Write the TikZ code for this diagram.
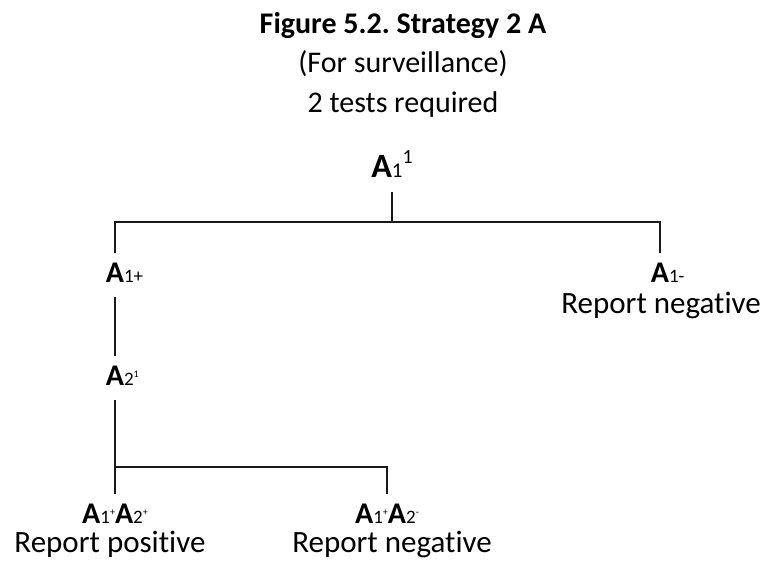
\documentclass[tikz,border=0pt]{standalone}
\usepackage{fontspec}
\setmainfont{Carlito}[Ligatures=CommonOff]
\usepackage{tikz}
\usetikzlibrary{calc,positioning}
\frenchspacing
\tikzstyle{testnode}=[inner xsep=0pt, inner ysep=4pt, anchor=base, font=\fontsize{30}{36}\selectfont]
\tikzstyle{plaintext}=[inner sep=0pt, anchor=base, font=\fontsize{30}{36}\selectfont]
\tikzstyle{reporttext}=[plaintext, font=\fontsize{31}{36}\selectfont]
\tikzstyle{branch}=[line width=1.6pt, black!90]
% small figures next to the A's
\newcommand{\lo}[1]{{\fontsize{19}{19}\selectfont #1}}
\newcommand{\hi}[1]{\raisebox{14pt}{\fontsize{19}{19}\selectfont #1}}
\newcommand{\tinyhi}[1]{\raisebox{8pt}{\fontsize{10}{10}\selectfont #1}}

\begin{document}
\begin{tikzpicture}[x=1pt,y=-1pt]
\useasboundingbox (0,0) rectangle (763,560);

	% Heading
    \node[plaintext] (title) at (403,33) {\bfseries Figure 5.2. Strategy 2 A};
    \node[plaintext] (purpose) at (403,72) {(For surveillance)};
    \node[plaintext] (ntests) at (403,112) {2 tests required};

	% Tests
    \node[testnode] (A11) at (392,177) {\strut{\fontsize{34}{34}\selectfont\bfseries A}{\fontsize{21}{21}\selectfont 1}\raisebox{14pt}{\fontsize{20}{20}\selectfont 1}};
    \node[testnode] (A1p) at (115,282) {\strut\textbf{A}\rlap{\lo{1+}}};
    \node[testnode] (A1m) at (660,282) {\strut\textbf{A}\rlap{\lo{1-}}};
    \node[reporttext, anchor=base east] (R1m) at (761,313) {Report negative};
    \node[testnode] (A2) at (115,385) {\strut\textbf{A}\rlap{\lo{2}\tinyhi{1}}};
    \node[testnode] (B1) at (115,523) {\strut\textbf{A}\lo{1}\tinyhi{+}\textbf{A}\lo{2}\tinyhi{+}};
    \node[testnode] (B2) at (387,523) {\strut\textbf{A}\lo{1}\tinyhi{+}\textbf{A}\lo{2}\tinyhi{-}};
    \node[reporttext] (R2p) at (110,552) {Report positive};
    \node[reporttext] (R2m) at (392,552) {Report negative};

	% Branches
    \draw[branch] (A11.south) -- ++(0,30) coordinate (J1);
    \draw[branch] (A1p.north) |- (J1) -| (A1m.north);
    \draw[branch] (A1p) -- (A2);
    \draw[branch] (A2) -- (B1);
    \draw[branch] (A2.south) ++(0,67) coordinate (J2) -| (B2.north);

\end{tikzpicture}
\end{document}
